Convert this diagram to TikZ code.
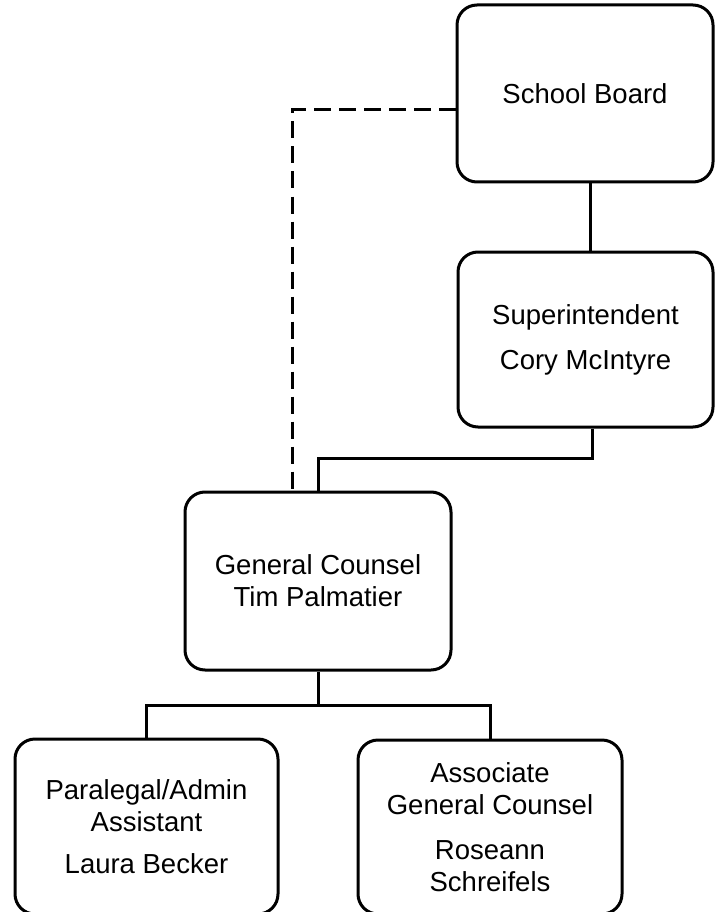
\documentclass[tikz,border=0pt]{standalone}
\usepackage{fontspec}
\setmainfont{Liberation Sans}
\usetikzlibrary{calc}
\begin{document}
\begin{tikzpicture}[x=1pt,y=-1pt,
  orgbox/.style={draw=black, line width=3pt, rounded corners=20pt, fill=white,
    align=center, inner sep=0pt, font=\fontsize{27.5}{32}\selectfont},
  link/.style={draw=black, line width=3pt},
  dottedlink/.style={draw=black, line width=3pt, dash pattern=on 17pt off 8pt}]
\useasboundingbox (0,0) rectangle (715,912);
\fill[white] (0,0) rectangle (715,912);
\node[orgbox, minimum width=256pt, minimum height=177pt] (sb) at (585,93.5) {School Board};
\node[orgbox, minimum width=255pt, minimum height=175pt] (sup) at (585.5,339.5) {Superintendent\\[13pt]Cory McIntyre};
\node[orgbox, minimum width=266pt, minimum height=178pt] (gc) at (318,581) {General Counsel\\Tim Palmatier};
\node[orgbox, minimum width=263pt, minimum height=175pt] (par) at (146.5,826.5) {Paralegal/Admin\\Assistant\\[10pt]Laura Becker};
\node[orgbox, minimum width=264pt, minimum height=174pt] (asc) at (490,827) {Associate\\General Counsel\\[13pt]Roseann\\Schreifels};
\coordinate (v1) at (590,0);
\coordinate (v2) at (592,0);
\coordinate (d1) at (292,110);
\draw[link] (sb.south -| v1) -- (sup.north -| v1);
\draw[link] (sup.south -| v2) |- ($(gc.north)+(0,-32)$) -- (gc.north);
\draw[dottedlink] (sb.west |- d1) -| (gc.north -| d1);
\coordinate (j2) at ($(gc.south)+(0,34)$);
\draw[link] (gc.south) -- (j2);
\draw[link] (par.north) |- (j2) -| (asc.north);
\end{tikzpicture}
\end{document}
